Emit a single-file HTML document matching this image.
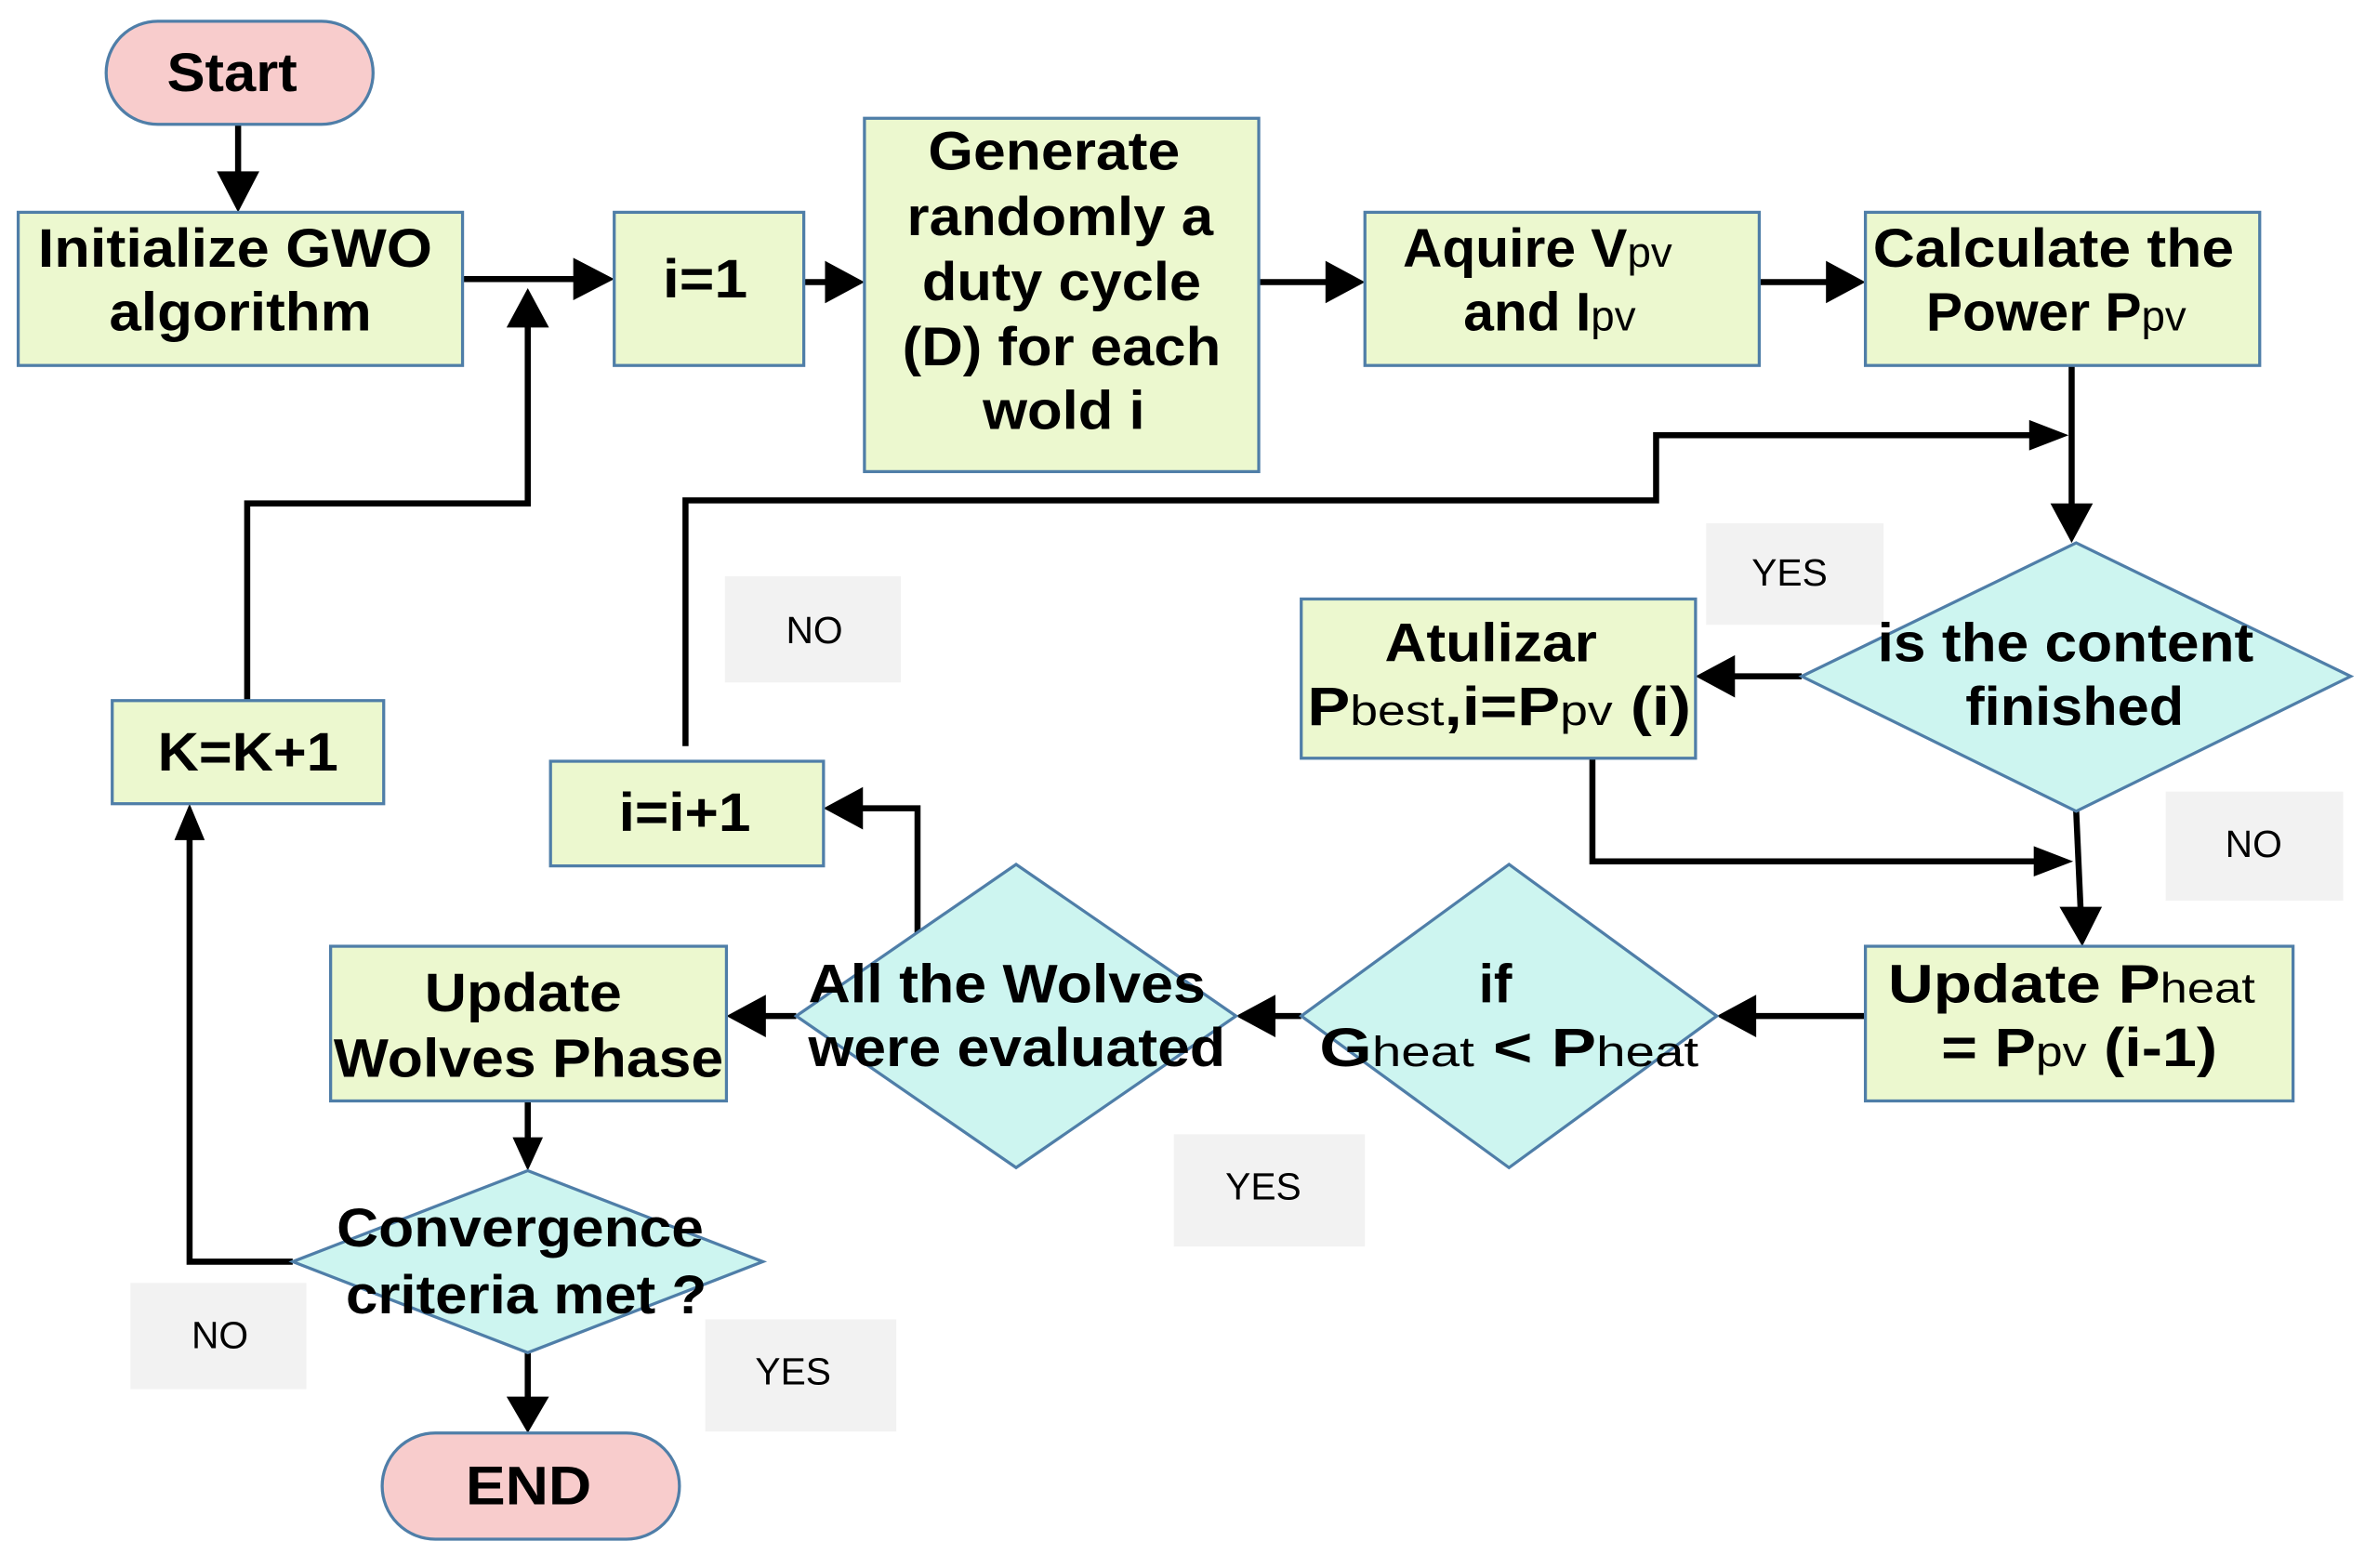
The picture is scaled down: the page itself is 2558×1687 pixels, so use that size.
<!DOCTYPE html>
<html><head><meta charset="utf-8"><style>
html,body{margin:0;padding:0;background:#fff;}
svg{display:block;}
text{font-family:"Liberation Sans",Arial,sans-serif;fill:#000;}
.b{font-weight:bold;font-size:36px;}
.l{font-size:25px;fill:#222;}
.s{font-weight:normal;font-size:28px;}
</style></head><body>
<svg width="2558" height="1687" viewBox="0 0 1568 1034" preserveAspectRatio="none" xmlns="http://www.w3.org/2000/svg">
<rect width="1568" height="1034" fill="#fff"/>
<g fill="#f2f2f2">
<rect x="1125" y="345" width="117" height="67"/>
<rect x="478" y="380" width="116" height="70"/>
<rect x="1428" y="522" width="117" height="72"/>
<rect x="774" y="748" width="126" height="74"/>
<rect x="86" y="846" width="116" height="70"/>
<rect x="465" y="870" width="126" height="74"/>
</g>
<g class="l" text-anchor="middle">
<text x="1180" y="386">YES</text>
<text x="537" y="424">NO</text>
<text x="1486" y="565">NO</text>
<text x="833" y="791">YES</text>
<text x="145" y="889">NO</text>
<text x="523" y="913">YES</text>
</g>
<g stroke="#000" stroke-width="4" fill="none">
<line x1="157" y1="82" x2="157" y2="118"/>
<line x1="305" y1="184" x2="385" y2="184"/>
<polyline points="163,462 163,332 348,332 348,212"/>
<line x1="530" y1="186" x2="550" y2="186"/>
<line x1="830" y1="186" x2="880" y2="186"/>
<line x1="1160" y1="186" x2="1210" y2="186"/>
<line x1="1366" y1="241" x2="1366" y2="336"/>
<polyline points="452,492 452,330 1092,330 1092,287 1342,287"/>
<line x1="1188" y1="446" x2="1140" y2="446"/>
<polyline points="1050,500 1050,568 1345,568"/>
<line x1="1369" y1="535" x2="1372" y2="602"/>
<line x1="1230" y1="670" x2="1154" y2="670"/>
<line x1="858" y1="670" x2="837" y2="670"/>
<polyline points="605,615 605,533 565,533"/>
<line x1="525" y1="670" x2="501" y2="670"/>
<line x1="348" y1="726" x2="348" y2="752"/>
<polyline points="193,832 125,832 125,552"/>
<line x1="348" y1="892" x2="348" y2="925"/>
</g>
<g fill="#000">
<polygon points="143,113 171,113 157,140"/>
<polygon points="378,170 378,198 405,184"/>
<polygon points="334,216 362,216 348,190"/>
<polygon points="544,172 544,200 570,186"/>
<polygon points="874,172 874,200 900,186"/>
<polygon points="1204,172 1204,200 1230,186"/>
<polygon points="1352,332 1380,332 1366,358"/>
<polygon points="1338,277 1338,297 1364,287"/>
<polygon points="1144,432 1144,460 1118,446"/>
<polygon points="1341,558 1341,578 1367,568"/>
<polygon points="1358,598 1386,598 1373,624"/>
<polygon points="1158,656 1158,684 1132,670"/>
<polygon points="841,656 841,684 815,670"/>
<polygon points="569,519 569,547 543,533"/>
<polygon points="505,656 505,684 479,670"/>
<polygon points="338,750 358,750 348,772"/>
<polygon points="115,554 135,554 125,530"/>
<polygon points="334,921 362,921 348,945"/>
</g>
<g stroke="#4f7ea8" stroke-width="2">
<rect x="70" y="14" width="176" height="68" rx="34" fill="#f8cccc"/>
<rect x="252" y="945" width="196" height="70" rx="35" fill="#f8cccc"/>
<g fill="#ecf8cf">
<rect x="12" y="140" width="293" height="101"/>
<rect x="405" y="140" width="125" height="101"/>
<rect x="570" y="78" width="260" height="233"/>
<rect x="900" y="140" width="260" height="101"/>
<rect x="1230" y="140" width="260" height="101"/>
<rect x="858" y="395" width="260" height="105"/>
<rect x="363" y="502" width="180" height="69"/>
<rect x="74" y="462" width="179" height="68"/>
<rect x="1230" y="624" width="282" height="102"/>
<rect x="218" y="624" width="261" height="102"/>
</g>
<g fill="#cdf5f0">
<polygon points="1369,358 1550,446 1369,535 1188,446"/>
<polygon points="995,570 1132,670 995,770 858,670"/>
<polygon points="670,570 815,670 670,770 525,670"/>
<polygon points="348,772 503,832 348,892 193,832"/>
</g>
</g>
<g class="b">
<text x="110" y="60" textLength="86" lengthAdjust="spacingAndGlyphs">Start</text>
<text x="25" y="176" textLength="260" lengthAdjust="spacingAndGlyphs">Initialize GWO</text>
<text x="72" y="218" textLength="173" lengthAdjust="spacingAndGlyphs">algorithm</text>
<text x="437" y="196" textLength="56" lengthAdjust="spacingAndGlyphs">i=1</text>
<text x="612" y="112" textLength="166" lengthAdjust="spacingAndGlyphs">Generate</text>
<text x="598" y="155" textLength="202" lengthAdjust="spacingAndGlyphs">randomly a</text>
<text x="608" y="198" textLength="184" lengthAdjust="spacingAndGlyphs">duty cycle</text>
<text x="595" y="241" textLength="210" lengthAdjust="spacingAndGlyphs">(D) for each</text>
<text x="648" y="283" textLength="107" lengthAdjust="spacingAndGlyphs">wold i</text>
<text x="925" y="176">Aquire V<tspan class="s">pv</tspan></text>
<text x="965" y="218">and I<tspan class="s">pv</tspan></text>
<text x="1235" y="176" textLength="238" lengthAdjust="spacingAndGlyphs">Calculate the</text>
<text x="1270" y="218">Power P<tspan class="s" font-size="22">pv</tspan></text>
<text x="1238" y="436" textLength="248" lengthAdjust="spacingAndGlyphs">is the content</text>
<text x="1296" y="478" textLength="144" lengthAdjust="spacingAndGlyphs">finished</text>
<text x="913" y="436" textLength="140" lengthAdjust="spacingAndGlyphs">Atulizar</text>
<text x="862" y="478" textLength="253" lengthAdjust="spacingAndGlyphs">P<tspan class="s">best</tspan>,i=P<tspan class="s">pv</tspan> (i)</text>
<text x="408" y="548" textLength="87" lengthAdjust="spacingAndGlyphs">i=i+1</text>
<text x="104" y="508" textLength="119" lengthAdjust="spacingAndGlyphs">K=K+1</text>
<text x="1245" y="661" textLength="242" lengthAdjust="spacingAndGlyphs">Update P<tspan class="s">heat</tspan></text>
<text x="1280" y="703" textLength="182" lengthAdjust="spacingAndGlyphs">= P<tspan class="s">pv</tspan> (i-1)</text>
<text x="975" y="661">if</text>
<text x="870" y="703" textLength="250" lengthAdjust="spacingAndGlyphs">G<tspan class="s">heat</tspan> &lt; P<tspan class="s">heat</tspan></text>
<text x="533" y="661" textLength="262" lengthAdjust="spacingAndGlyphs">All the Wolves</text>
<text x="533" y="703" textLength="275" lengthAdjust="spacingAndGlyphs">were evaluated</text>
<text x="280" y="667" textLength="130" lengthAdjust="spacingAndGlyphs">Update</text>
<text x="220" y="710" textLength="257" lengthAdjust="spacingAndGlyphs">Wolves Phase</text>
<text x="222" y="822" textLength="242" lengthAdjust="spacingAndGlyphs">Convergence</text>
<text x="228" y="866" textLength="238" lengthAdjust="spacingAndGlyphs">criteria met ?</text>
<text x="307" y="992" textLength="83" lengthAdjust="spacingAndGlyphs">END</text>
</g>
</svg>
</body></html>
